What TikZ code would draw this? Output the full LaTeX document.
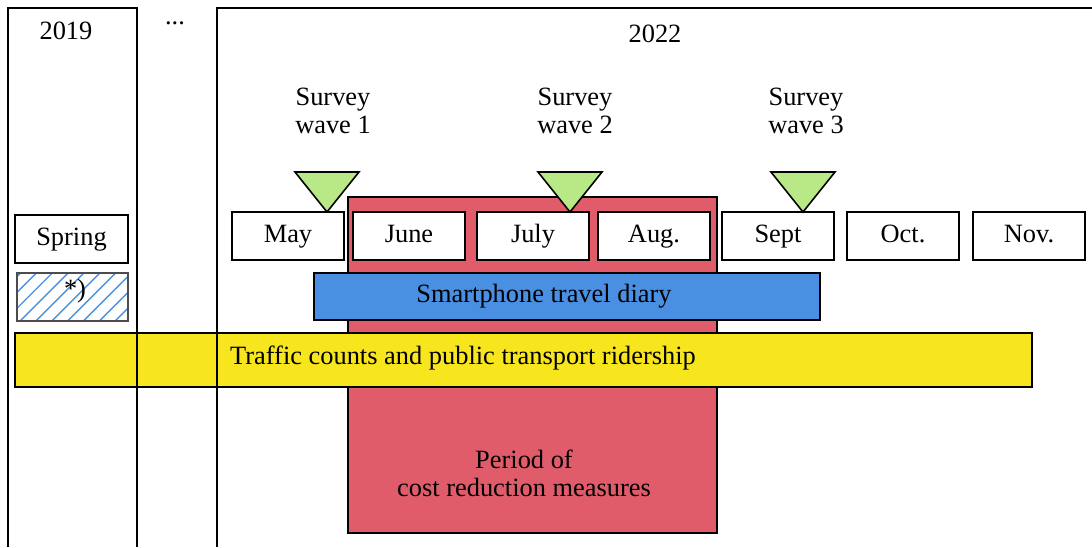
\documentclass[tikz,border=0pt]{standalone}
\usepackage{fontspec}
\setmainfont{Liberation Serif}
\usetikzlibrary{patterns.meta}

\definecolor{costred}{HTML}{E05C6B}
\definecolor{diaryblue}{HTML}{4A90E2}
\definecolor{countyellow}{HTML}{F7E51E}
\definecolor{wavegreen}{HTML}{B8E986}

\tikzset{
  panel/.style={line width=1pt},
  monthbox/.style={draw, fill=white, line width=1pt, minimum width=56pt, minimum height=24pt, inner sep=0pt, text height=9pt, text depth=2.5pt},
  bar/.style={draw, line width=1pt},
  wave/.style={draw, fill=wavegreen, line width=0.8pt, line join=miter},
}

\begin{document}
\begin{tikzpicture}[x=0.5pt, y=-0.5pt, font=\fontsize{13.2}{14}\selectfont]
\useasboundingbox (0,0) rectangle (1092,547);

% period of cost reduction
\draw[bar, fill=costred] (348,197) rectangle (717,533);
\node (cost) at (524,473) [align=center] {Period of\\cost reduction measures};

% months of 2022
\foreach \x/\m [count=\i] in {288/May, 409/June, 533/July, 654/Aug., 778/Sept, 903/Oct., 1029/Nov.}
  \node[monthbox] (m\i) at (\x,236) {\m};

% survey waves
\foreach \x/\lx/\n in {327/333/1, 570/575/2, 803/806/3} {
  \draw[wave] (\x-32,172) -- (\x+32,172) -- (\x,212) -- cycle;
  \node[align=center] (wave\n) at (\lx,111) {Survey\\wave \n};
}

% 2019
\node[monthbox, minimum width=56.5pt] (spring) at (71.5,239) {Spring};
\draw[pattern={Lines[angle=45, distance=5.6pt, line width=0.7pt]}, pattern color=diaryblue, draw=black!70, line width=0.7pt] (17,273) rectangle (128,321);
\node (note) at (75,291) {*)};

% data sources
\draw[bar, fill=diaryblue] (314,273) rectangle (820,320);
\node (diary) at (544,296) {Smartphone travel diary};
\draw[bar, line width=1.2pt, fill=countyellow] (15,333) rectangle (1032,387);
\node (counts) at (463,358) {Traffic counts and public transport ridership};

% year panels
\draw[panel] (8,547) |- (137,8) -- (137,547);
\draw[panel] (217,547) |- (1092,8);
\node (y2019) at (66,31) {2019};
\node (dots) at (175,23) {...};
\node (y2022) at (655,34) {2022};
\end{tikzpicture}
\end{document}
